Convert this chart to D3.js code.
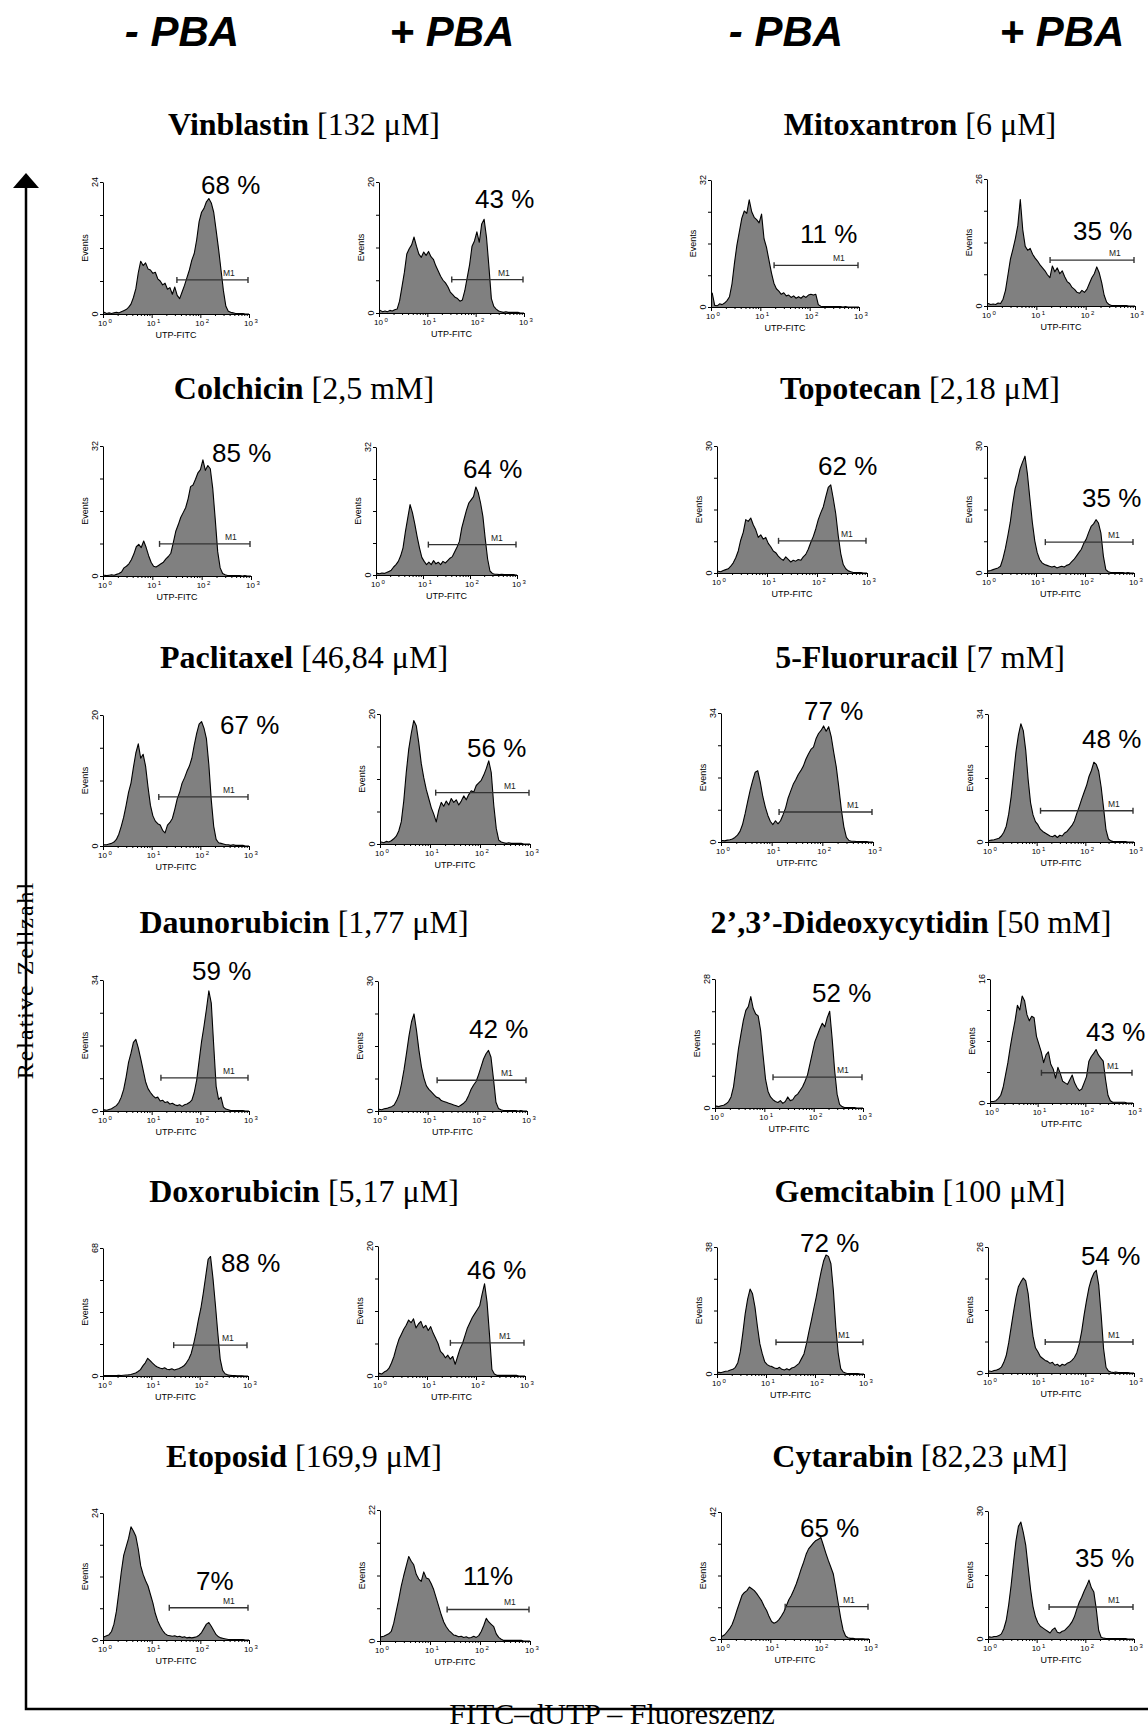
<!DOCTYPE html>
<html><head><meta charset="utf-8">
<script src="https://cdn.jsdelivr.net/npm/d3@7/dist/d3.min.js"></script>
<style>body{margin:0;background:#fff}svg{display:block}</style>
</head><body>
<svg id="c" width="1148" height="1729"></svg>
<script>
// ---------- DATA ----------
const pbaHeaders = ["- PBA", "+ PBA", "- PBA", "+ PBA"];
const drugs = ["Vinblastin","Mitoxantron","Colchicin","Topotecan","Paclitaxel","5-Fluoruracil",
  "Daunorubicin","2\u2019,3\u2019-Dideoxycytidin","Doxorubicin","Gemcitabin","Etoposid","Cytarabin"];
const doses = ["[132 \u03bcM]","[6 \u03bcM]","[2,5 mM]","[2,18 \u03bcM]","[46,84 \u03bcM]","[7 mM]",
  "[1,77 \u03bcM]","[50 mM]","[5,17 \u03bcM]","[100 \u03bcM]","[169,9 \u03bcM]","[82,23 \u03bcM]"];
// panel order: drug0 -PBA, drug0 +PBA, drug1 -PBA, drug1 +PBA, ...
const percentLabels = ["68 %","43 %","11 %","35 %","85 %","64 %","62 %","35 %","67 %","56 %","77 %","48 %",
  "59 %","42 %","52 %","43 %","88 %","46 %","72 %","54 %","7%","11%","65 %","35 %"];
const yMaxValues = [24,20,32,26,32,32,30,30,20,20,34,34,34,30,28,16,68,20,38,26,24,22,42,30];
const gateStarts = [33,32,19,19,14,13,17,15.5,14,13,14,12,15.5,15.5,15,12,29,30,16,15,23,22,20,18];
const gateLevels = [6.2,5.1,10.5,9.4,7.9,7.6,7.6,7.3,7.5,7.9,7.9,8.3,8.6,7.1,6.7,3.9,16.4,5.1,9.5,6.4,6.1,5.3,10.7,7.5];
const decadeTicks = [1, 10, 100, 1000];
const decadeLabels = ["0", "1", "2", "3"];
// histogram counts: 60 bins, 20 per decade, from 10^0 to 10^3
const vinblastinMinus = [0.3,0.1,0.2,0.1,0.2,0.3,0.2,0.4, 0.6,0.8,1.2,1.8,3.0,4.6,7.5,9.6, 8.8,9.3,8.2,8.0,7.4,7.6,6.4,6.0, 5.3,5.6,4.5,4.8,3.6,4.9,3.4,2.8, 4.0,5.2,6.6,8.0,9.8,11.0,13.5,16.8, 18.5,19.2,20.4,21.0,20.2,18.5,15.2,11.8, 8.0,4.2,1.4,0.5,0.3,0.2,0.1,0.1, 0.1,0.1,0,0];
const vinblastinPlus = [0.4,0.2,0.3,0.2,0.4,0.3,0.5,0.6, 1.8,4.0,6.2,9.0,9.8,10.4,11.6,10.2, 9.0,8.5,9.3,8.8,9.4,8.6,8.2,7.2, 6.4,5.6,5.0,4.6,4.0,3.2,2.8,2.4, 2.2,1.8,2.0,3.4,5.4,7.4,10.2,11.0, 12.4,10.8,13.6,14.3,11.5,7.0,2.2,1.0, 0.6,0.3,0.2,0.1,0.2,0.1,0.1,0.1, 0.1,0.1,0,0];
const mitoxantronMinus = [3.5,0.4,0.3,0.8,0.6,1.0,1.6,2.6, 5.8,11.0,15.6,19.0,22.4,24.2,23.6,27.0, 24.0,22.6,22.0,21.2,23.4,17.2,15.0,11.8, 8.6,6.0,4.6,4.0,3.2,3.6,2.8,3.0, 2.4,2.8,2.2,2.6,2.2,2.8,2.4,3.0, 3.2,3.0,3.2,0.6,0.2,0.1,0.1,0.1, 0.1,0.1,0.1,0.1,0.1,0,0.1,0, 0,0,0,0];
const mitoxantronPlus = [0.5,0.3,0.4,0.3,0.6,0.5,1.4,3.2, 6.4,9.6,11.6,13.8,16.5,21.8,15.6,12.2, 11.4,11.8,10.6,9.8,9.2,8.4,7.8,7.2, 6.4,5.8,8.2,7.0,7.8,6.6,7.2,6.0, 5.0,4.6,3.8,3.4,2.8,2.6,3.2,2.8, 3.4,4.6,5.8,6.6,8.0,6.8,4.8,2.2, 0.8,0.3,0.1,0.1,0.1,0.1,0.1,0.1, 0.1,0,0,0];
const colchicinMinus = [0.2,0.1,0.2,0.3,0.2,0.4,0.6,1.0, 2.0,2.4,3.0,4.0,5.4,7.2,7.8,7.0, 8.6,7.0,5.0,3.4,2.4,2.2,2.6,3.0, 3.4,4.2,4.8,5.6,8.2,11.0,12.6,14.4, 15.6,16.8,19.0,22.0,22.4,23.8,25.4,26.2, 28.6,26.0,27.2,26.4,21.5,14.0,6.0,2.0, 0.6,0.3,0.1,0.1,0.1,0.1,0.1,0.1, 0,0.1,0,0];
const colchicinPlus = [0.4,0.3,0.5,0.4,0.6,0.9,1.2,2.0, 2.6,3.4,4.8,6.8,10.8,14.2,17.6,15.6, 12.8,9.6,6.8,4.4,3.4,2.6,3.2,2.6, 3.6,2.8,3.2,2.6,3.4,3.0,3.6,4.2, 4.6,5.8,7.0,8.4,11.8,14.0,16.2,18.0, 18.8,19.6,22.0,20.6,18.0,14.6,9.0,4.0, 1.0,0.4,0.2,0.2,0.1,0.2,0.1,0.1, 0.1,0.1,0.1,0];
const topotecanMinus = [0.4,0.3,0.6,0.8,1.0,1.6,2.4,3.6, 5.2,7.8,9.6,12.6,12.2,13.0,11.4,10.2, 8.4,9.0,8.0,8.4,7.0,6.2,5.2,4.8, 4.0,3.4,3.0,3.8,3.2,2.6,3.0,2.8, 3.2,3.0,3.8,4.4,5.6,7.2,8.6,10.4, 12.6,14.2,15.6,18.0,20.2,20.8,17.6,14.0, 8.8,4.6,2.0,1.0,0.5,0.3,0.1,0.1, 0.1,0.1,0,0];
const topotecanPlus = [0.5,0.6,0.8,1.0,1.2,1.6,3.4,5.8, 8.8,12.0,16.4,20.0,22.0,24.6,26.2,27.6, 23.4,17.6,12.0,7.6,4.8,3.2,2.4,2.0, 1.8,1.6,1.4,1.6,1.2,1.4,1.6,1.4, 1.8,2.0,2.6,3.2,4.0,4.8,5.6,7.0, 8.0,9.6,11.0,11.6,12.6,11.8,9.4,4.0, 0.8,0.3,0.1,0.1,0.1,0.1,0.1,0.1, 0,0.1,0,0];
const paclitaxelMinus = [0.2,0.2,0.3,0.4,0.6,1.0,1.8,3.0, 4.4,6.2,8.2,9.6,12.0,14.2,15.6,13.4, 14.0,12.2,9.0,6.2,4.6,3.8,3.4,3.2, 2.4,2.0,3.2,3.6,4.2,5.6,7.2,8.2, 9.6,10.4,11.4,12.2,13.4,15.4,17.2,18.6, 19.0,18.0,16.4,12.4,7.0,3.0,1.0,0.5, 0.4,0.3,0.2,0.2,0.1,0.2,0.1,0.1, 0.1,0.1,0,0];
const paclitaxelPlus = [0.3,0.2,0.4,0.3,0.5,0.8,1.2,2.0, 3.4,6.6,11.0,14.6,17.0,19.0,18.2,15.6, 12.4,10.2,8.4,7.0,5.6,4.6,3.4,5.2, 6.4,5.8,6.6,6.0,7.0,6.4,6.8,6.0, 6.6,7.4,6.8,7.6,8.2,8.0,9.0,9.4, 9.8,10.6,11.6,12.8,11.0,6.0,2.4,0.6, 0.3,0.2,0.1,0.2,0.1,0.1,0.1,0.1, 0.1,0,0,0];
const fluoruracilMinus = [0.4,0.3,0.5,0.6,0.8,1.2,1.8,2.8, 4.6,7.4,10.6,13.6,16.2,18.4,18.8,15.8, 12.0,9.2,7.0,5.4,4.6,5.6,4.8,5.6, 7.2,9.0,11.6,13.4,15.2,16.4,17.8,18.8, 20.0,21.8,23.2,24.4,25.0,27.2,28.6,29.4, 30.6,29.2,30.4,27.8,23.6,19.8,14.4,8.6, 4.0,1.2,0.4,0.2,0.2,0.1,0.1,0.1, 0.1,0.1,0,0];
const fluoruracilPlus = [0.4,0.5,0.6,0.8,1.0,1.6,2.6,4.2, 7.4,12.0,18.0,24.0,28.4,31.4,29.6,24.4, 16.6,10.4,7.2,5.4,4.6,3.4,2.8,2.4, 2.0,1.6,1.4,1.8,1.2,1.8,1.6,2.4, 2.8,3.6,4.4,5.6,7.6,9.4,11.4,13.2, 15.0,17.4,19.0,21.2,20.6,18.8,14.6,9.0, 3.2,0.8,0.3,0.1,0.1,0.1,0.1,0.1, 0.1,0,0,0];
const daunorubicinMinus = [0.3,0.2,0.4,0.6,1.0,1.4,2.2,3.6, 5.6,8.8,12.6,15.0,17.8,18.6,16.4,13.6, 10.6,7.6,5.8,4.8,4.0,3.4,3.6,2.6, 2.8,2.2,2.4,1.8,2.0,1.6,1.4,1.6, 1.2,1.6,1.8,2.2,2.8,4.8,8.0,13.0, 18.0,22.0,26.4,31.2,28.0,17.0,6.4,3.0, 3.6,1.0,0.5,0.3,0.1,0.1,0.1,0.1, 0.1,0.1,0,0];
const daunorubicinPlus = [0.4,0.3,0.5,0.6,0.8,1.0,1.4,2.4, 3.8,6.4,9.6,13.4,17.4,20.6,22.4,18.6, 14.0,10.2,7.6,5.8,5.0,4.4,3.8,3.2, 3.0,2.4,2.2,2.0,1.8,1.6,1.4,1.2, 1.0,1.4,1.8,2.4,3.6,5.0,6.0,6.8, 8.4,10.2,12.0,13.2,14.0,12.4,7.4,2.0, 0.6,0.3,0.1,0.1,0.1,0.1,0.1,0.1, 0,0.1,0,0];
const dideoxyMinus = [0.4,0.3,0.5,0.6,0.9,1.4,2.4,4.6, 8.6,12.8,16.0,19.0,21.2,22.0,24.2,21.6, 20.4,20.0,16.8,11.4,6.2,3.6,2.4,1.8, 1.4,1.2,1.6,1.0,1.4,2.4,1.6,1.8, 2.6,3.0,3.8,4.6,5.8,7.2,9.6,12.0, 14.4,15.8,17.2,18.4,17.6,19.6,21.0,15.0, 8.2,3.0,0.8,0.3,0.1,0.1,0.1,0.1, 0.1,0,0,0];
const dideoxyPlus = [0.2,0.2,0.3,0.6,1.0,2.0,3.6,5.2, 7.2,9.0,10.6,12.6,12.0,13.8,13.2,11.4, 10.6,11.2,11.0,8.6,7.6,6.6,5.2,6.2, 6.6,5.0,4.4,3.2,4.6,3.8,2.8,2.6, 2.4,3.0,3.6,2.6,2.0,1.6,1.8,2.6, 3.4,5.4,6.0,6.4,6.9,6.2,5.8,5.4, 3.0,1.0,0.3,0.1,0.1,0.1,0.1,0.1, 0.1,0,0,0];
const doxorubicinMinus = [0.3,0.2,0.2,0.3,0.2,0.3,0.4,0.3, 0.4,0.5,0.6,0.8,1.2,1.6,2.4,3.4, 5.4,7.0,9.4,8.2,6.8,5.6,4.8,4.2, 3.8,4.4,3.6,3.4,3.8,3.2,3.6,4.0, 4.6,5.4,7.0,9.0,12.0,17.0,23.0,30.0, 36.0,44.0,53.0,62.0,63.5,52.0,38.0,23.0, 9.0,3.0,1.2,0.6,0.4,0.2,0.2,0.1, 0.1,0.1,0,0];
const doxorubicinPlus = [0.4,0.3,0.6,0.8,1.2,2.0,3.0,4.4, 5.6,6.4,7.2,7.8,8.6,8.2,8.8,7.4, 8.0,8.4,7.4,7.8,7.0,7.6,6.6,5.8, 5.0,3.8,3.4,2.8,3.2,2.6,3.0,1.8, 3.0,4.2,5.0,6.2,7.4,8.2,9.0,9.6, 10.2,10.8,12.6,14.2,11.4,6.4,1.0,0.3, 0.1,0.1,0.1,0.1,0.1,0.1,0.1,0.1, 0.1,0,0,0];
const gemcitabinMinus = [0.5,0.4,0.6,0.8,0.9,1.2,1.4,2.0, 3.4,6.6,12.0,18.0,22.4,25.4,24.0,20.0, 14.2,9.0,6.0,3.6,2.8,2.4,2.2,1.8, 1.6,2.0,1.4,1.2,1.6,1.2,1.8,2.0, 2.6,3.2,4.6,6.0,9.0,12.6,16.0,19.6, 23.0,27.0,30.6,33.8,35.6,35.2,33.0,25.0, 14.0,6.0,1.6,0.6,0.3,0.1,0.1,0.1, 0.1,0.1,0,0];
const gemcitabinPlus = [0.4,0.3,0.5,0.6,0.8,1.2,2.2,3.6, 6.2,9.4,12.6,15.6,17.8,18.8,19.6,19.0, 16.4,11.6,7.6,5.2,4.4,3.4,3.0,2.6, 2.4,2.0,2.2,1.6,1.8,1.4,1.8,1.6, 2.0,2.2,2.6,3.2,4.2,6.0,8.6,12.0, 15.0,17.6,19.4,20.6,21.2,18.2,12.0,5.0, 1.2,0.4,0.2,0.1,0.2,0.1,0.1,0.1, 0.1,0.1,0,0];
const etoposidMinus = [0.6,0.8,1.0,1.6,3.0,5.4,9.0,12.8, 16.0,17.6,19.2,21.4,20.6,19.6,17.2,14.0, 12.4,11.2,10.2,8.6,7.0,5.0,3.6,2.6, 1.8,1.2,0.9,0.8,0.7,0.8,0.6,0.7, 0.5,0.6,0.4,0.5,0.4,0.5,0.6,0.9, 1.4,2.2,3.0,3.3,2.6,1.8,1.0,0.6, 0.4,0.3,0.2,0.1,0.1,0.1,0.1,0.1, 0.1,0.1,0,0];
const etoposidPlus = [0.7,0.8,1.0,1.2,1.6,3.0,5.0,7.0, 9.2,11.0,12.6,14.2,13.4,12.8,11.2,10.4, 10.0,11.6,10.6,10.4,9.6,8.6,7.2,5.8, 4.4,3.2,2.4,1.8,1.4,1.0,0.9,0.7, 0.8,0.6,0.7,0.5,0.6,0.8,0.6,0.9, 1.6,2.6,3.8,3.2,2.8,2.4,1.2,0.6, 0.3,0.1,0.1,0.1,0.1,0.1,0.1,0.1, 0.1,0,0,0];
const cytarabinMinus = [0.9,1.4,2.4,3.4,4.8,7.0,9.6,12.0, 14.4,15.4,16.0,17.2,16.6,16.0,15.0,13.8, 12.6,10.8,9.4,7.4,5.8,5.2,5.6,6.4, 7.6,9.0,11.0,13.0,14.4,16.2,18.2,20.6, 23.2,25.4,28.0,29.8,30.8,31.8,32.6,33.0, 33.6,31.0,28.4,26.0,23.8,21.6,17.0,12.0, 7.0,3.0,1.0,0.4,0.2,0.2,0.1,0.1, 0.1,0.1,0,0];
const cytarabinPlus = [0.5,0.4,0.6,0.6,0.8,1.2,2.4,4.4, 8.0,12.6,18.0,23.0,26.4,27.4,25.0,22.0, 16.8,11.6,7.6,5.2,3.8,3.0,2.6,2.2, 1.8,1.4,2.2,2.6,1.6,1.4,1.8,2.0, 2.6,3.2,4.0,5.2,7.0,8.6,9.8,11.2, 12.4,13.8,12.0,11.0,7.0,2.0,0.4,0.2, 0.1,0.1,0.1,0.1,0.1,0.1,0.1,0.1, 0.1,0,0,0];
const histograms = [vinblastinMinus, vinblastinPlus, mitoxantronMinus, mitoxantronPlus,
  colchicinMinus, colchicinPlus, topotecanMinus, topotecanPlus,
  paclitaxelMinus, paclitaxelPlus, fluoruracilMinus, fluoruracilPlus,
  daunorubicinMinus, daunorubicinPlus, dideoxyMinus, dideoxyPlus,
  doxorubicinMinus, doxorubicinPlus, gemcitabinMinus, gemcitabinPlus,
  etoposidMinus, etoposidPlus, cytarabinMinus, cytarabinPlus];

// ---------- LAYOUT ----------
// [axis x, top y, baseline y, width]
const panelBoxes = [
  [103,182,314,146],[379,182,313,145],[711,180,307,148],[987,179,306,148],
  [103,446,576,148],[376,447,575,141],[717,446,573,150],[987,446,573,147],
  [103,715,846,146],[380,714,844,150],[721,713,842,152],[988,714,842,146],
  [103,980,1111,146],[378,981,1111,149],[715,979,1108,148],[990,979,1103,143],
  [103,1248,1376,145],[378,1246,1376,147],[717,1247,1374,147],[988,1247,1373,146],
  [103,1513,1640,146],[380,1510,1641,150],[721,1512,1639,148],[988,1511,1639,146]];
const percentPos = [[201,194],[475,208],[800,243],[1073,240],[212,462],[463,478],[818,475],[1082,507],
  [220,734],[467,757],[804,720],[1082,748],[192,980],[469,1038],[812,1002],[1086,1041],
  [221,1272],[467,1279],[800,1252],[1081,1265],[196,1590],[463,1585],[800,1537],[1075,1567]];
const headerX = [182, 452, 786, 1062];
const titleX = [304, 920, 304, 920, 304, 920, 304, 911, 304, 920, 304, 920];
const titleY = [135, 399, 668, 933, 1202, 1467];

const SANS = "'Liberation Sans', Arial, Helvetica, sans-serif";
const SERIF = "'Liberation Serif', 'Times New Roman', Times, serif";
const svg = d3.select("#c");
svg.append("rect").attr("width",1148).attr("height",1729).attr("fill","#fff");

// headers
svg.selectAll("text.hdr").data(pbaHeaders).join("text").attr("class","hdr")
  .attr("x",(d,i)=>headerX[i]).attr("y",46).attr("text-anchor","middle")
  .attr("font-family",SANS).attr("font-weight","bold").attr("font-style","italic")
  .attr("font-size",42).text(d=>d);

// titles
drugs.forEach((d,k)=>{
  const t = svg.append("text").attr("x",titleX[k]).attr("y",titleY[Math.floor(k/2)])
    .attr("text-anchor","middle").attr("font-family",SERIF).attr("font-size",32);
  t.append("tspan").attr("font-weight","bold").text(d);
  t.append("tspan").text(" " + doses[k]);
});

// panels
const logBins = d3.range(60).map(i => Math.pow(10, 0.025 + 0.05*i));
const minorTicks = [];
[1,10,100].forEach(b => { for (let m=2;m<=9;m++) minorTicks.push(b*m); });

histograms.forEach((h,p)=>{
  const [ax, top, base, w] = panelBoxes[p];
  const g = svg.append("g");
  const x = d3.scaleLog().domain([1,1000]).range([ax, ax+w]);
  const y = d3.scaleLinear().domain([0, yMaxValues[p]]).range([base, top]);
  const pts = [[1,h[0]]].concat(h.map((v,i)=>[logBins[i], v])).concat([[1000, h[h.length-1]]]);
  g.append("path").attr("d", d3.area().x(d=>x(d[0])).y0(base).y1(d=>y(d[1]))(pts))
    .attr("fill","#808080");
  g.append("path").attr("d", d3.line().x(d=>x(d[0])).y(d=>y(d[1]))(pts))
    .attr("fill","none").attr("stroke","#000").attr("stroke-width",1.1).attr("stroke-linejoin","round");

  // y axis
  const ym = yMaxValues[p];
  const ya = g.append("g").attr("transform",`translate(${ax},0)`)
    .call(d3.axisLeft(y).tickValues([0,ym/4,ym/2,3*ym/4,ym]).tickSize(3).tickSizeOuter(0).tickFormat(""));
  ya.selectAll("path,line").attr("stroke","#000").attr("stroke-width",1);
  [[0,base],[ym,top]].forEach(([v,yy])=>{
    g.append("text").attr("transform",`translate(${ax-5},${yy}) rotate(-90)`)
      .attr("text-anchor","middle").attr("font-family",SANS).attr("font-size",9).text(v);
  });
  g.append("text").attr("transform",`translate(${ax-15},${(top+base)/2}) rotate(-90)`)
    .attr("text-anchor","middle").attr("font-family",SANS).attr("font-size",9).text("Events");

  // x axis
  const xa1 = g.append("g").attr("transform",`translate(0,${base})`)
    .call(d3.axisBottom(x).tickValues(minorTicks).tickSize(2).tickSizeOuter(0).tickFormat(""));
  const xa2 = g.append("g").attr("transform",`translate(0,${base})`)
    .call(d3.axisBottom(x).tickValues(decadeTicks).tickSize(4).tickSizeOuter(0).tickFormat(""));
  xa1.selectAll("path,line").attr("stroke","#000").attr("stroke-width",1);
  xa2.selectAll("path,line").attr("stroke","#000").attr("stroke-width",1);
  decadeTicks.forEach((v,i)=>{
    const t = g.append("text").attr("x",x(v)-5).attr("y",base+12)
      .attr("font-family",SANS).attr("font-size",8);
    t.append("tspan").text("10");
    t.append("tspan").attr("dx",1.5).attr("dy",-3).attr("font-size",6).text(decadeLabels[i]);
  });
  g.append("text").attr("x",ax+w/2).attr("y",base+24).attr("text-anchor","middle")
    .attr("font-family",SANS).attr("font-size",9).text("UTP-FITC");

  // M1 gate
  const gy = y(gateLevels[p]), gx0 = x(gateStarts[p]), gx1 = x(1000)-1;
  const gg = g.append("g").attr("stroke","#333").attr("stroke-width",1.4);
  gg.append("line").attr("x1",gx0).attr("x2",gx1).attr("y1",gy).attr("y2",gy);
  gg.append("line").attr("x1",gx0).attr("x2",gx0).attr("y1",gy-3).attr("y2",gy+3);
  gg.append("line").attr("x1",gx1).attr("x2",gx1).attr("y1",gy-3).attr("y2",gy+3);
  g.append("text").attr("x",gx1-25).attr("y",gy-4).attr("font-family",SANS)
    .attr("font-size",8.5).attr("fill","#222").text("M1");

  // percentage
  g.append("text").attr("x",percentPos[p][0]).attr("y",percentPos[p][1])
    .attr("font-family",SANS).attr("font-size",26).text(percentLabels[p]);
});

// frame: arrow axis
svg.append("path").attr("d","M26,186 L26,1709 L1148,1709").attr("fill","none")
  .attr("stroke","#000").attr("stroke-width",2.5);
svg.append("path").attr("d","M26,173 L13,188 L39,188 Z").attr("fill","#000");

// Relative Zellzahl
const rz = svg.append("text").attr("transform","translate(33,980) rotate(-90)")
  .attr("text-anchor","middle").attr("font-family",SERIF).attr("font-size",24)
  .attr("letter-spacing",2).text("Relative Zellzahl");
const rb = rz.node().getBBox();
svg.insert("rect", "text").attr("transform","translate(33,980) rotate(-90)")
  .attr("x",rb.x-6).attr("y",rb.y).attr("width",rb.width+12).attr("height",rb.height).attr("fill","#fff");

// bottom label
const bt = svg.append("text").attr("x",612).attr("y",1724).attr("text-anchor","middle")
  .attr("font-family",SERIF).attr("font-size",30).text("FITC\u2013dUTP \u2013 Fluoreszenz");
const bb = bt.node().getBBox();
svg.insert("rect","text").attr("x",bb.x-8).attr("y",1700).attr("width",bb.width+16).attr("height",20).attr("fill","#fff");
</script>
</body></html>
